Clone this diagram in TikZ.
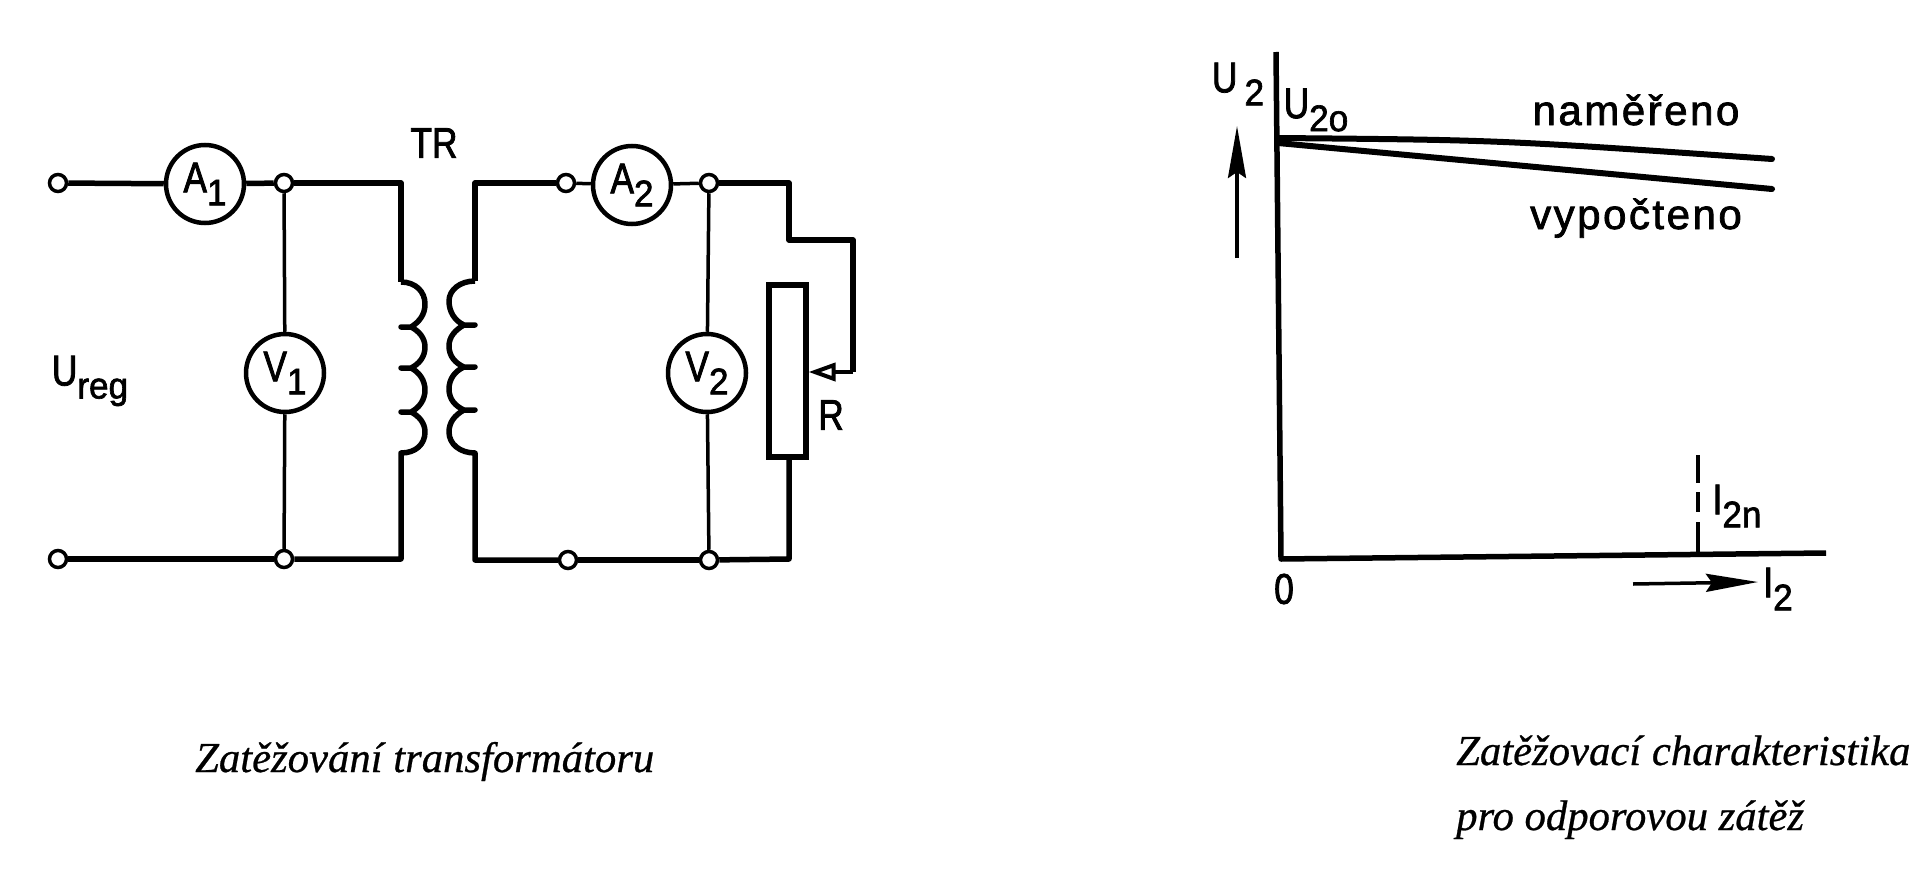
\documentclass[tikz,border=0pt]{standalone}
\usepackage{fontspec}
\usepackage{tikz}
\usetikzlibrary{arrows.meta}
\setmainfont{Liberation Sans}
\newfontfamily\capfont[FakeBold=0.6]{Liberation Serif Italic}
\newfontfamily\labfont[FakeStretch=0.82,FakeBold=1.8]{Liberation Sans}
\newfontfamily\subfont[FakeStretch=0.95,FakeBold=1.8]{Liberation Sans}
\newfontfamily\wordfont[LetterSpace=6,FakeBold=1.8]{Liberation Sans}
\newcommand{\lowsub}[1]{\raisebox{-13pt}{\subfont\fontsize{37}{37}\selectfont #1}}
\tikzset{
  wire/.style={line width=5.5pt,line join=round},
  thinwire/.style={line width=3.5pt},
  meter/.style={circle,draw=black,fill=white,line width=4.5pt,minimum size=78pt,inner sep=0pt,font=\labfont\fontsize{43}{43}\selectfont},
  term/.style={circle,draw=black,fill=white,line width=3.5pt,minimum size=17pt,inner sep=0pt},
  lab/.style={inner sep=0pt,font=\labfont\fontsize{43}{43}\selectfont},
  word/.style={inner sep=0pt,anchor=base,font=\wordfont\fontsize{42}{42}\selectfont},
  caption/.style={inner sep=0pt,anchor=base west,font=\capfont\fontsize{42.7}{42.7}\selectfont},
  pointer/.style={line width=3.5pt,-{Stealth[length=52pt,width=18pt,inset=6pt]}}
}
\begin{document}
\begin{tikzpicture}[x=1pt,y=-1pt]
\useasboundingbox (0,0) rectangle (1916,875);
% circuit
\node[term] (T1) at (58,183) {};
\node[term] (T2) at (58,559) {};
\node[meter] (A1) at (205,184) {A\lowsub{1}};
\node[term] (N1) at (284,183) {};
\node[term] (N2) at (284,559) {};
\node[meter] (V1) at (285,373) {V\lowsub{1}};
\node[term] (T3) at (566,183) {};
\node[term] (T4) at (568,560) {};
\node[meter] (A2) at (632,185) {A\lowsub{2}};
\node[term] (N3) at (709,183) {};
\node[term] (N4) at (709,560) {};
\node[meter] (V2) at (707,373) {V\lowsub{2}};
\node[draw=black,line width=6pt,minimum width=37pt,minimum height=172pt,inner sep=0pt] (R) at (787,370.5) {};
\coordinate (P1) at (401,183);
\coordinate (P2) at (401,282);
\coordinate (P3) at (401,453);
\coordinate (P4) at (401,559);
\coordinate (S1) at (475,183);
\coordinate (S2) at (475,281);
\coordinate (S3) at (475,453);
\coordinate (S4) at (475,560);
\coordinate (W1) at (789,183);
\coordinate (W2) at (789,240);
\coordinate (W3) at (853,240);
\coordinate (W4) at (853,372);
\coordinate (W5) at (789,559);
\draw[wire] (T1) -- (A1);
\draw[wire] (A1) -- (N1);
\draw[wire] (N1) -- (P1) -- (P2);
\draw[wire] (P2) .. controls (416,282) and (425,292) .. (425,304)
  .. controls (425,315) and (419,322) .. (411,327) -- (401,327) -- (411,327)
  .. controls (419,331) and (425,338) .. (425,347)
  .. controls (425,357) and (419,364) .. (411,368) -- (401,368) -- (411,368)
  .. controls (419,372) and (425,380) .. (425,390)
  .. controls (425,400) and (419,408) .. (411,412) -- (401,412) -- (411,412)
  .. controls (419,416) and (425,423) .. (425,432)
  .. controls (425,444) and (416,453) .. (P3) -- (P4) -- (N2);
\draw[wire] (N2) -- (T2);
\draw[thinwire] (N1) -- (V1);
\draw[thinwire] (V1) -- (N2);
\draw[wire] (T3) -- (S1) -- (S2);
\draw[wire] (S2) .. controls (460,281) and (449,290) .. (449,301)
  .. controls (449,312) and (455,321) .. (464,325) -- (475,325) -- (464,325)
  .. controls (455,330) and (449,337) .. (449,346)
  .. controls (449,356) and (455,363) .. (464,367) -- (475,367) -- (464,367)
  .. controls (455,371) and (449,379) .. (449,389)
  .. controls (449,399) and (455,406) .. (464,410) -- (475,410) -- (464,410)
  .. controls (455,415) and (449,422) .. (449,432)
  .. controls (449,444) and (460,453) .. (S3) -- (S4) -- (T4);
\draw[thinwire] (T3) -- (A2);
\draw[thinwire] (A2) -- (N3);
\draw[wire] (N3) -- (W1) -- (W2) -- (W3) -- (W4);
\draw[line width=4pt,-{Triangle[open,length=27pt,width=18pt]}] (W4) -- (R.east |- W4);
\draw[wire] (R.south -| W5) -- (W5) -- (N4);
\draw[wire] (N4) -- (T4);
\draw[thinwire] (N3) -- (V2);
\draw[thinwire] (V2) -- (N4);
\node[lab] (TRlabel) at (434,143) {TR};
\node[lab] (Ulabel) at (90,381) {U\lowsub{reg}};
\node[lab] (Rlabel) at (831,415) {R};
% graph
\coordinate (Y1) at (1276,52);
\coordinate (O) at (1281,559);
\coordinate (X1) at (1826,553);
\coordinate (C0) at (1278,138);
\coordinate (C1) at (1772,159);
\coordinate (C2) at (1278,143);
\coordinate (C3) at (1772,189);
\coordinate (D1) at (1698,455);
\coordinate (D2) at (1698,552);
\coordinate (B1) at (1237,258);
\coordinate (B2) at (1237,126);
\coordinate (B3) at (1633,584);
\coordinate (B4) at (1758,582);
\draw[wire,line width=5.5pt] (Y1) -- (O) -- (X1);
\draw[wire,line width=6pt,line cap=round] (C0) .. controls (1500,140) .. (C1);
\draw[wire,line width=6pt,line cap=round] (C2) -- (C3);
\draw[line width=3.5pt,dash pattern=on 28pt off 9pt on 20pt off 10pt on 30pt] (D1) -- (D2);
\draw[pointer] (B1) -- (B2);
\draw[pointer] (B3) -- (B4);
\node[lab] (U2label) at (1238,84) {U\,\lowsub{2}};
\node[lab] (U20label) at (1316,110) {U\lowsub{2o}};
\node[word] (meas) at (1636,125) {naměřeno};
\node[word] (calc) at (1636,229) {vypočteno};
\node[lab] (zero) at (1284,589) {0};
\node[lab] (I2nlabel) at (1737,506) {I\lowsub{2n}};
\node[lab] (I2label) at (1778,589) {I\lowsub{2}};
% captions
\node[caption] (cap1) at (195,772) {Zatěžování transformátoru};
\node[caption] (cap2) at (1456,765) {Zatěžovací charakteristika};
\node[caption] (cap3) at (1456,830) {pro odporovou zátěž};
\end{tikzpicture}
\end{document}
